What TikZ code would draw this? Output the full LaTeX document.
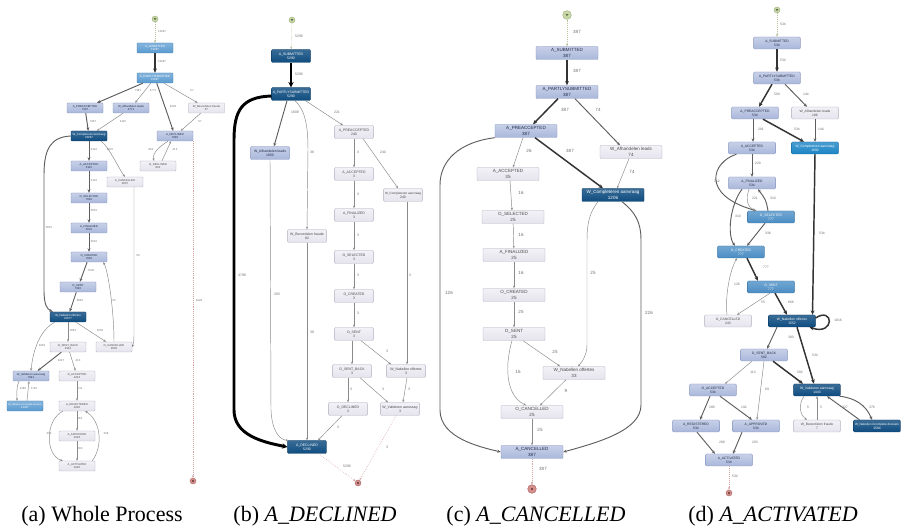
\documentclass[tikz,border=0pt]{standalone}
\usepackage{fontspec}
\setmainfont{Liberation Serif}
\setsansfont{Liberation Sans}
\usepackage{graphicx}
\usetikzlibrary{arrows.meta,calc}
\definecolor{dkb}{HTML}{0E4C80}
\definecolor{dkbd}{HTML}{0A3A63}
\definecolor{mdb}{HTML}{5B9BD0}
\definecolor{mdbd}{HTML}{3F7FB5}
\definecolor{mcb}{HTML}{1B84C4}
\definecolor{mcbd}{HTML}{136A9F}
\definecolor{mob}{HTML}{4A8DC4}
\definecolor{mobd}{HTML}{3571A3}
\definecolor{lvb}{HTML}{A9B7DB}
\definecolor{lvbd}{HTML}{8595C0}
\definecolor{lvt}{HTML}{1F2A44}
\definecolor{ltb}{HTML}{E6E4EE}
\definecolor{ltbd}{HTML}{B0AFC0}
\definecolor{ltt}{HTML}{4A4A4A}
\definecolor{stc}{HTML}{C8D7A6}
\definecolor{stcd}{HTML}{9CAD78}
\definecolor{enc}{HTML}{D48E8C}
\definecolor{encd}{HTML}{A86464}
\definecolor{egl}{HTML}{8A8A8A}
\definecolor{egm}{HTML}{5E5E5E}
\definecolor{egt}{HTML}{333333}
\definecolor{lbl}{HTML}{6E6E6E}
\definecolor{sdot}{HTML}{B5C29A}
\definecolor{edot}{HTML}{D3A3A3}
\newdimen\bxmaxw
\bxmaxw=30pt
\newcommand\fitw[1]{\setbox0=\hbox{#1}\ifdim\wd0>\bxmaxw\relax\resizebox{\bxmaxw}{!}{#1}\else\box0\fi}
\newcommand\bxl[2]{\fitw{#1}\\#2}
\tikzset{
 bx/.style={draw, rounded corners=0.7pt, align=center, inner sep=0.2pt, line width=0.3pt},
 dkn/.style={bx, top color=dkb!82!white, bottom color=dkb, draw=dkbd, text=white},
 mdn/.style={bx, top color=mdb!75!white, bottom color=mdb, draw=mdbd, text=white},
 mcn/.style={bx, top color=mcb!80!white, bottom color=mcb, draw=mcbd, text=white},
 mon/.style={bx, top color=mob!78!white, bottom color=mob, draw=mobd, text=white},
 lvn/.style={bx, top color=lvb!65!white, bottom color=lvb, draw=lvbd, text=lvt},
 ltn/.style={bx, top color=ltb!50!white, bottom color=ltb, draw=ltbd, text=ltt},
 stn/.style={circle, fill=stc, draw=stcd, line width=0.3pt, minimum size=4.5pt, inner sep=0pt,
   path picture={\fill[stcd!60!black] ($(path picture bounding box.center)+(-1.3,-0.9)$) -- ($(path picture bounding box.center)+(1.3,-0.9)$) -- ($(path picture bounding box.center)+(0,1.2)$) -- cycle;}},
 enn/.style={circle, fill=enc, draw=encd, line width=0.3pt, minimum size=4.5pt, inner sep=0pt,
   path picture={\fill[encd!75!black] ($(path picture bounding box.center)+(-1,-1)$) rectangle ($(path picture bounding box.center)+(1,1)$);}},
 elb/.style={text=lbl, inner sep=0pt},
 ed/.style={draw=egl, line width=0.35pt, -{Stealth[length=2pt,width=1.6pt]}},
 edm/.style={draw=egm, line width=0.7pt, -{Stealth[length=2.6pt,width=2.2pt]}},
 edt/.style={draw=egt, line width=1.1pt, -{Stealth[length=3.2pt,width=2.8pt]}},
 edx/.style={draw=black, line width=2.2pt, -{Stealth[length=4pt,width=4pt]}},
 eds/.style={draw=sdot, line width=0.45pt, densely dotted, -{Stealth[length=2pt,width=1.6pt]}},
 ede/.style={draw=edot, line width=0.45pt, densely dotted, -{Stealth[length=2pt,width=1.6pt]}},
 captxt/.style={font=\fontsize{16.5}{18}\selectfont, anchor=base, inner sep=0pt}
}
\begin{document}
\begin{tikzpicture}[x=0.75pt,y=-0.75pt]
\useasboundingbox (0,0) rectangle (901,527);
\fill[white] (0,0) rectangle (901,527);

% ---------------- (a) Whole Process ----------------
\begin{scope}[font=\sffamily\fontsize{2.1}{2.5}\selectfont, bx/.append style={minimum width=27pt, minimum height=7.5pt}]
\bxmaxw=25pt\relax
\node[stn] (aS) at (155,19) {};
\node[mdn] (a1) at (155,48) {\bxl{A\_SUBMITTED}{13087}};
\node[mdn] (a2) at (155,78) {\bxl{A\_PARTLYSUBMITTED}{13087}};
\node[lvn] (a3) at (85,108) {\bxl{A\_PREACCEPTED}{7367}};
\node[lvn] (a4) at (131,108) {\bxl{W\_Afhandelen leads}{4771}};
\node[ltn] (a5) at (206.5,108) {\bxl{W\_Beoordelen fraude}{57}};
\node[dkn] (a6) at (89,136) {\bxl{W\_Completeren aanvraag}{23967}};
\node[lvn] (a7) at (175,136) {\bxl{A\_DECLINED}{7635}};
\node[lvn] (a8) at (89,166) {\bxl{A\_ACCEPTED}{5113}};
\node[ltn] (a9) at (158,166) {\bxl{O\_DECLINED}{802}};
\node[ltn] (a10) at (125,182) {\bxl{A\_CANCELLED}{2807}};
\node[lvn] (a11) at (89,198) {\bxl{O\_SELECTED}{7030}};
\node[lvn] (a12) at (89,228) {\bxl{A\_FINALIZED}{5015}};
\node[lvn] (a13) at (89,257) {\bxl{O\_CREATED}{7030}};
\node[lvn] (a14) at (78,287) {\bxl{O\_SENT}{7030}};
\node[dkn] (a15) at (68,317) {\bxl{W\_Nabellen offertes}{22977}};
\node[ltn] (a16) at (68,347) {\bxl{O\_SENT\_BACK}{3454}};
\node[ltn] (a17) at (114,347) {\bxl{O\_CANCELLED}{3655}};
\node[lvn] (a18) at (31,376) {\bxl{W\_Valideren aanvraag}{7891}};
\node[ltn] (a19) at (77,376) {\bxl{O\_ACCEPTED}{2243}};
\node[mdn] (a20) at (25,406) {\bxl{W\_Nabellen incomplete dossiers}{11407}};
\node[ltn] (a21) at (77,406) {\bxl{A\_REGISTERED}{2246}};
\node[ltn] (a22) at (77,436) {\bxl{A\_APPROVED}{2246}};
\node[ltn] (a23) at (77,466) {\bxl{A\_ACTIVATED}{2246}};
\node[enn] (aE) at (193,481) {};

\draw[eds] (aS) -- (a1);
\draw[edt] (a1) -- (a2);
\draw[edm] (a2) -- (a3);
\draw[ed] (a2) -- (a4);
\draw[edm] (a2) -- (a7);
\draw[ed] (a2) -- (a5);
\draw[ed] (a5) -- (a7);
\draw[edm] (a3) -- (a6);
\draw[ed] (a4) -- (a6);
\draw[ed] ($(a7.south)+(-7,0)$) .. controls +(-8,5) and +(-2,-8) .. ($(a9.north)+(-4,0)$);
\draw[ed] ($(a9.north)+(4,0)$) -- ($(a7.south)+(-4,0)$);
\draw[edm] (a6) -- (a8);
\draw[ed] ($(a6.south east)+(-6,0)$) .. controls +(8,6) and +(-5,-6) .. (a10.north);
\draw[edm] (a8) -- (a11);
\draw[edm] (a11) -- (a12);
\draw[edm] (a12) -- (a13);
\draw[edm] (a6.west) .. controls (50,137) and (44,150) .. (44,175) -- (44,290) .. controls (44,305) and (47,309) .. ($(a15.north west)+(3,0)$);
\draw[ed] ($(a10.south)+(9,0)$) -- (134,330) .. controls (134,342) .. (a17.east);
\draw[edm] (a13) -- (a14);
\draw[ed] (a17.north) .. controls (114,310) and (108,270) .. ($(a13.south east)+(-4,0)$);
\draw[edm] (a14) -- (a15);
\draw[ed] (a15) -- (a16);
\draw[ed] (a15) -- (a17);
\draw[ed] ($(a15.south west)+(5,0)$) .. controls (40,330) and (33,350) .. (a18.north);
\draw[edm] (a16) -- (a18);
\draw[ed] (a16) -- (a19);
\draw[ed] ($(a18.south)+(-12,0)$) .. controls +(-3,6) and +(0,-6) .. ($(a20.north)+(-8,0)$);
\draw[ed] ($(a20.north)+(2,0)$) -- ($(a18.south)+(-2,0)$);
\draw[ed] (a19) -- (a21);
\draw[ed] (a21) -- (a22);
\draw[ed] (a22) -- (a23);
\draw[ed] ($(a21.south west)+(4,0)$) .. controls (45,420) and (45,455) .. ($(a23.north west)+(4,0)$);
\draw[ed] ($(a23.north east)+(-3,0)$) .. controls (104,445) and (100,420) .. ($(a21.south east)+(-10,0)$);
\draw[ede] (a7.south -| aE) -- (aE);

\node[elb] (la1) at (162,32) {13087};
\node[elb] (la2) at (162,62) {13087};
\node[elb] (la3) at (138,91) {7367};
\node[elb] (la4) at (153,91) {4771};
\node[elb] (la5) at (173,107) {3429};
\node[elb] (la6) at (192,91) {57};
\node[elb] (la7) at (200,122) {57};
\node[elb] (la8) at (93,122) {7367};
\node[elb] (la9) at (123,122) {3115};
\node[elb] (la10) at (151,150) {802};
\node[elb] (la11) at (175,150) {413};
\node[elb] (la12) at (94,150) {5113};
\node[elb] (la13) at (110,150) {2807};
\node[elb] (la14) at (94,181) {5113};
\node[elb] (la15) at (94,211) {5015};
\node[elb] (la16) at (94,242) {5015};
\node[elb] (la17) at (49,228) {5015};
\node[elb] (la18) at (138,256) {59};
\node[elb] (la19) at (91,271) {7030};
\node[elb] (la20) at (114,301) {29};
\node[elb] (la21) at (80,301) {6820};
\node[elb] (la22) at (73,331) {2653};
\node[elb] (la23) at (100,331) {1053};
\node[elb] (la24) at (42,346) {3229};
\node[elb] (la25) at (61,361) {3437};
\node[elb] (la26) at (78,361) {413};
\node[elb] (la27) at (23,389) {2186};
\node[elb] (la28) at (34,389) {1735};
\node[elb] (la29) at (80,389) {711};
\node[elb] (la30) at (80,419) {161};
\node[elb] (la31) at (80,449) {793};
\node[elb] (la32) at (49,434) {373};
\node[elb] (la33) at (106,434) {346};
\node[elb] (la34) at (199,301) {3429};
\end{scope}

% ---------------- (b) A_DECLINED ----------------
\begin{scope}[font=\sffamily\fontsize{2.6}{3.1}\selectfont, bx/.append style={minimum width=29pt, minimum height=9.75pt}]
\bxmaxw=27pt\relax
\node[stn] (bS) at (292,20) {};
\node[dkn] (b1) at (291,56) {\bxl{A\_SUBMITTED}{5290}};
\node[dkn] (b2) at (291,94) {\bxl{A\_PARTLYSUBMITTED}{5290}};
\node[lvn] (b3) at (270,153) {\bxl{W\_Afhandelen leads}{1850}};
\node[ltn] (b4) at (354,132) {\bxl{A\_PREACCEPTED}{240}};
\node[ltn] (b5) at (354,174) {\bxl{A\_ACCEPTED}{3}};
\node[ltn] (b6) at (354,215) {\bxl{A\_FINALIZED}{3}};
\node[ltn] (b7) at (403,195) {\bxl{W\_Completeren aanvraag}{240}};
\node[ltn] (b8) at (307,236) {\bxl{W\_Beoordelen fraude}{82}};
\node[ltn] (b9) at (354,257) {\bxl{O\_SELECTED}{3}};
\node[ltn] (b10) at (354,296) {\bxl{O\_CREATED}{3}};
\node[ltn] (b11) at (354,334) {\bxl{O\_SENT}{3}};
\node[ltn] (b12) at (352,371) {\bxl{O\_SENT\_BACK}{3}};
\node[ltn] (b13) at (406,371) {\bxl{W\_Nabellen offertes}{3}};
\node[ltn] (b14) at (348,409) {\bxl{O\_DECLINED}{3}};
\node[ltn] (b15) at (400,409) {\bxl{W\_Valideren aanvraag}{3}};
\node[dkn] (b16) at (307,447) {\bxl{A\_DECLINED}{5290}};
\node[enn] (bE) at (358,483) {};

\draw[eds] (bS) -- (b1);
\draw[edx] (b1) -- (b2);
\draw[edx] ($(b2.west)+(0,2)$) .. controls (242,97) and (234,110) .. (234,140) -- (234,410) .. controls (234,435) and (262,442) .. (b16.west);
\draw[edm] ($(b2.south)+(-4,0)$) -- ($(b3.north)+(4,0)$);
\draw[ed] ($(b2.south)+(4,0)$) .. controls (305,110) and (308,125) .. (308,150) -- (b8.north);
\draw[ed] ($(b2.south east)+(-5,0)$) -- ($(b4.north)+(-11,0)$);
\draw[ed] (b4) -- (b5);
\draw[ed] ($(b4.south)+(9,0)$) -- ($(b7.north)+(-5,0)$);
\draw[ed] (b5) -- (b6);
\draw[ed] (b6) -- (b9);
\draw[ed] (b3.south) -- (271,410) .. controls (272,432) and (280,440) .. ($(b16.north west)+(1,0)$);
\draw[ed] (b8) -- (b16);
\draw[ed] ($(b7.south)+(4,0)$) -- ($(b13.north)+(1,0)$);
\draw[ed] (b9) -- (b10);
\draw[ed] (b10) -- (b11);
\draw[ed] ($(b11.south)+(-2,0)$) -- (b12.north);
\draw[ed] ($(b11.south)+(7,0)$) -- ($(b13.north)+(-15,0)$);
\draw[ed] ($(b12.south)+(-4,0)$) -- (b14.north);
\draw[ed] ($(b12.south)+(8,0)$) -- ($(b15.north)+(-12,0)$);
\draw[ed] ($(b13.south)+(1,0)$) -- ($(b15.north)+(3,0)$);
\draw[ed] ($(b14.south)+(-6,0)$) -- ($(b16.north)+(11,0)$);
\draw[ede] ($(b15.south)+(-4,0)$) -- (bE);
\draw[ede] ($(b16.south east)+(-8,0)$) -- (bE);

\node[elb] (lb1) at (299,36) {5290};
\node[elb] (lb2) at (299,74) {5290};
\node[elb] (lb3) at (242,275) {4799};
\node[elb] (lb4) at (295,112) {1609};
\node[elb] (lb5) at (337,112) {221};
\node[elb] (lb6) at (312,152) {38};
\node[elb] (lb7) at (358,152) {3};
\node[elb] (lb8) at (383,152) {240};
\node[elb] (lb9) at (358,194) {3};
\node[elb] (lb10) at (358,235) {3};
\node[elb] (lb11) at (277,294) {203};
\node[elb] (lb12) at (312,332) {38};
\node[elb] (lb13) at (410,275) {3};
\node[elb] (lb14) at (358,275) {3};
\node[elb] (lb15) at (358,313) {3};
\node[elb] (lb17) at (387,351) {3};
\node[elb] (lb18) at (351,389) {3};
\node[elb] (lb19) at (383,389) {3};
\node[elb] (lb20) at (409,389) {3};
\node[elb] (lb21) at (338,427) {3};
\node[elb] (lb22) at (387,447) {3};
\node[elb] (lb23) at (347,466) {5290};
\end{scope}

% ---------------- (c) A_CANCELLED ----------------
\begin{scope}[font=\sffamily\fontsize{3.4}{4.1}\selectfont, bx/.append style={minimum width=46.5pt, minimum height=9.75pt}]
\bxmaxw=44pt\relax
\node[stn, minimum size=6.5pt] (cS) at (567,15) {};
\node[lvn] (c1) at (567,53) {\bxl{A\_SUBMITTED}{387}};
\node[lvn] (c2) at (567,92) {\bxl{A\_PARTLYSUBMITTED}{387}};
\node[lvn] (c3) at (526,131) {\bxl{A\_PREACCEPTED}{387}};
\node[ltn] (c4) at (631,152) {\bxl{W\_Afhandelen leads}{74}};
\node[ltn] (c5) at (508,174) {\bxl{A\_ACCEPTED}{35}};
\node[dkn] (c6) at (613,195) {\bxl{W\_Completeren aanvraag}{1206}};
\node[ltn] (c7) at (513,217) {\bxl{O\_SELECTED}{25}};
\node[ltn] (c8) at (514,255) {\bxl{A\_FINALIZED}{25}};
\node[ltn] (c9) at (514,295) {\bxl{O\_CREATED}{25}};
\node[ltn] (c10) at (514,334) {\bxl{O\_SENT}{25}};
\node[ltn] (c11) at (574,373) {\bxl{W\_Nabellen offertes}{33}};
\node[ltn] (c12) at (532,412) {\bxl{O\_CANCELLED}{25}};
\node[lvn] (c13) at (532,452) {\bxl{A\_CANCELLED}{387}};
\node[enn, minimum size=6.5pt] (cE) at (532,489) {};

\draw[eds] (cS) -- (c1);
\draw[edt] (c1) -- (c2);
\draw[edt] ($(c2.south)+(-9,0)$) -- ($(c3.north)+(7,0)$);
\draw[edm] ($(c2.south)+(8,0)$) -- ($(c4.north)+(-11,0)$);
\draw[ed] ($(c3.south)+(-3,0)$) -- ($(c5.north)+(5,0)$);
\draw[edt] ($(c3.south)+(9,0)$) -- ($(c6.north)+(-10,0)$);
\draw[ed] ($(c4.south)+(-2,0)$) -- ($(c6.north)+(4,0)$);
\draw[ed] ($(c5.south)+(2,0)$) -- ($(c7.north)+(-1,0)$);
\draw[ed] (c7) -- (c8);
\draw[ed] (c8) -- (c9);
\draw[ed] (c9) -- (c10);
\draw[ed] ($(c10.south)+(9,0)$) -- ($(c11.north)+(-14,0)$);
\draw[ed] ($(c10.south)+(-2,0)$) .. controls (505,365) and (505,395) .. ($(c12.north)+(-6,0)$);
\draw[ed] ($(c6.south)+(-15,0)$) .. controls (590,212) and (587,222) .. (587,240) -- (587,345) .. controls (587,355) and (582,362) .. ($(c11.north)+(4,0)$);
\draw[edm] ($(c6.south)+(9,0)$) .. controls (635,212) and (641,222) .. (641,240) -- (641,405) .. controls (641,430) and (600,442) .. (c13.east);
\draw[edm] (c3.south west) .. controls (460,142) and (440,160) .. (440,185) -- (440,410) .. controls (440,438) and (480,447) .. (c13.west);
\draw[ed] ($(c11.south)+(-8,0)$) -- ($(c12.north)+(8,0)$);
\draw[ed] (c12) -- (c13);
\draw[ede] (c13) -- (cE);

\node[elb] (lc1) at (577,32) {387};
\node[elb] (lc2) at (577,71) {387};
\node[elb] (lc3) at (565,110) {387};
\node[elb] (lc4) at (598,110) {74};
\node[elb] (lc5) at (529,151) {26};
\node[elb] (lc6) at (570,151) {387};
\node[elb] (lc7) at (632,172) {74};
\node[elb] (lc8) at (521,193) {16};
\node[elb] (lc9) at (521,235) {16};
\node[elb] (lc10) at (521,273) {16};
\node[elb] (lc11) at (521,312) {25};
\node[elb] (lc12) at (555,352) {25};
\node[elb] (lc13) at (518,372) {16};
\node[elb] (lc14) at (593,273) {25};
\node[elb] (lc15) at (649,313) {226};
\node[elb] (lc16) at (449,293) {126};
\node[elb] (lc17) at (566,391) {9};
\node[elb] (lc18) at (540,430) {25};
\node[elb] (lc19) at (543,469) {387};
\end{scope}

% ---------------- (d) A_ACTIVATED ----------------
\begin{scope}[font=\sffamily\fontsize{2.5}{3}\selectfont, bx/.append style={minimum width=35pt, minimum height=9pt}]
\bxmaxw=33pt\relax
\node[stn] (dS) at (777,10) {};
\node[lvn] (d1) at (777,43) {\bxl{A\_SUBMITTED}{534}};
\node[lvn] (d2) at (777,78) {\bxl{A\_PARTLYSUBMITTED}{534}};
\node[lvn] (d3) at (755,113) {\bxl{A\_PREACCEPTED}{534}};
\node[ltn] (d4) at (815,113) {\bxl{W\_Afhandelen leads}{186}};
\node[lvn] (d5) at (752,148) {\bxl{A\_ACCEPTED}{534}};
\node[mcn] (d6) at (815,148) {\bxl{W\_Completeren aanvraag}{1092}};
\node[lvn] (d7) at (752,183) {\bxl{A\_FINALIZED}{534}};
\node[mon] (d8) at (771,217) {\bxl{O\_SELECTED}{777}};
\node[mon] (d9) at (741,252) {\bxl{O\_CREATED}{777}};
\node[mon] (d10) at (771,287) {\bxl{O\_SENT}{777}};
\node[ltn] (d11) at (728,321) {\bxl{O\_CANCELLED}{243}};
\node[dkn] (d12) at (792,321) {\bxl{W\_Nabellen offertes}{1552}};
\node[lvn] (d13) at (764,355) {\bxl{O\_SENT\_BACK}{582}};
\node[lvn] (d14) at (713,390) {\bxl{O\_ACCEPTED}{534}};
\node[dkn] (d15) at (817,390) {\bxl{W\_Valideren aanvraag}{1443}};
\node[lvn] (d16) at (696,426) {\bxl{A\_REGISTERED}{534}};
\node[lvn] (d17) at (756,426) {\bxl{A\_APPROVED}{534}};
\node[ltn] (d18) at (817,426) {\bxl{W\_Beoordelen fraude}{7}};
\node[dkn] (d19) at (877,426) {\bxl{W\_Nabellen incomplete dossiers}{1584}};
\node[lvn] (d20) at (729,460) {\bxl{A\_ACTIVATED}{534}};
\node[enn] (dE) at (729,493) {};

\draw[eds] (dS) -- (d1);
\draw[edt] (d1) -- (d2);
\draw[edt] ($(d2.south)+(-5,0)$) -- ($(d3.north)+(4,0)$);
\draw[edm] ($(d2.south)+(8,0)$) -- ($(d4.north)+(-8,0)$);
\draw[edm] ($(d3.south)+(-2,0)$) -- ($(d5.north)+(1,0)$);
\draw[edt] ($(d3.south)+(8,0)$) -- ($(d6.north)+(-11,0)$);
\draw[edm] (d4) -- (d6);
\draw[edm] (d5) -- (d7);
\draw[edm] ($(d5.south west)+(8,0)$) .. controls (712,162) and (700,195) .. ($(d8.north west)+(9,0)$);
\draw[ed] ($(d7.south)+(-3,0)$) .. controls (745,200) and (748,208) .. ($(d8.north)+(-15,0)$);
\draw[edm] ($(d8.north)+(-3,0)$) .. controls (766,200) .. ($(d7.south)+(6,0)$);
\draw[edm] ($(d7.south)+(-10,0)$) .. controls (730,205) and (727,235) .. ($(d9.north)+(-6,0)$);
\draw[edm] ($(d8.south)+(-6,0)$) -- ($(d9.north)+(6,0)$);
\draw[edt] (d6.south) -- ($(d12.north east)+(-3,0)$);
\draw[edt] ($(d9.south)+(6,0)$) -- ($(d10.north)+(-13,0)$);
\draw[ed] ($(d11.north)+(-1,0)$) .. controls (725,295) and (730,270) .. ($(d9.south)+(-4,0)$);
\draw[ed] ($(d10.south)+(-1,0)$) -- ($(d11.north)+(9,0)$);
\draw[edt] ($(d10.south)+(4,0)$) -- ($(d12.north)+(-5,0)$);
\draw[edt] ($(d12.east)+(0,-3)$) .. controls (834,306) and (835,336) .. ($(d12.south east)+(-6,0)$);
\draw[edm] ($(d12.south)+(-15,0)$) -- ($(d13.north)+(3,0)$);
\draw[edt] ($(d12.south)+(5,0)$) -- ($(d15.north)+(-3,0)$);
\draw[ed] ($(d13.south)+(-12,0)$) -- ($(d14.north)+(12,0)$);
\draw[ed] (d13.south) -- ($(d17.north)+(1,0)$);
\draw[edt] ($(d13.south)+(9,0)$) -- ($(d15.north)+(-14,0)$);
\draw[edm] ($(d14.south)+(-3,0)$) -- ($(d16.north)+(4,0)$);
\draw[edm] ($(d14.south)+(7,0)$) -- ($(d17.north)+(-4,0)$);
\draw[ed] ($(d15.south)+(-13,0)$) .. controls (798,405) and (800,415) .. ($(d18.north)+(-10,0)$);
\draw[ed] (d18) -- (d15);
\draw[edm] ($(d15.south east)+(-1,0)$) .. controls (855,398) and (866,405) .. ($(d19.north)+(-5,0)$);
\draw[edm] ($(d19.north west)+(6,0)$) -- ($(d15.south)+(10,0)$);
\draw[edm] ($(d16.south)+(1,0)$) -- ($(d20.north)+(-14,0)$);
\draw[edm] ($(d17.south)+(-14,0)$) -- ($(d20.north)+(4,0)$);
\draw[ede] (d20) -- (dE);

\node[elb] (ld1) at (783,24) {534};
\node[elb] (ld2) at (783,60) {534};
\node[elb] (ld3) at (777,94) {509};
\node[elb] (ld4) at (806,94) {144};
\node[elb] (ld5) at (761,129) {281};
\node[elb] (ld6) at (797,129) {534};
\node[elb] (ld7) at (821,129) {144};
\node[elb] (ld8) at (758,163) {220};
\node[elb] (ld9) at (717,181) {312};
\node[elb] (ld10) at (755,198) {221};
\node[elb] (ld11) at (773,198) {310};
\node[elb] (ld12) at (738,216) {310};
\node[elb] (ld13) at (768,233) {338};
\node[elb] (ld14) at (822,233) {534};
\node[elb] (ld15) at (766,267) {777};
\node[elb] (ld16) at (737,284) {126};
\node[elb] (ld17) at (763,302) {55};
\node[elb] (ld18) at (791,302) {668};
\node[elb] (ld19) at (838,320) {1016};
\node[elb] (ld20) at (791,337) {383};
\node[elb] (ld21) at (815,355) {534};
\node[elb] (ld22) at (753,372) {113};
\node[elb] (ld23) at (767,389) {69};
\node[elb] (ld24) at (800,372) {582};
\node[elb] (ld25) at (712,407) {280};
\node[elb] (ld26) at (744,407) {192};
\node[elb] (ld27) at (808,407) {5};
\node[elb] (ld28) at (821,407) {5};
\node[elb] (ld29) at (845,407) {327};
\node[elb] (ld30) at (872,407) {376};
\node[elb] (ld31) at (722,442) {289};
\node[elb] (ld32) at (755,442) {203};
\node[elb] (ld33) at (735,476) {534};
\end{scope}

% ---------------- captions ----------------
\node[captxt] (capa) at (102,522) {(a) Whole Process};
\node[captxt] (capb) at (315,522) {(b) \textit{A\_DECLINED}};
\node[captxt] (capc) at (536,522) {(c) \textit{A\_CANCELLED}};
\node[captxt] (capd) at (773,522) {(d) \textit{A\_ACTIVATED}};
\end{tikzpicture}
\end{document}
